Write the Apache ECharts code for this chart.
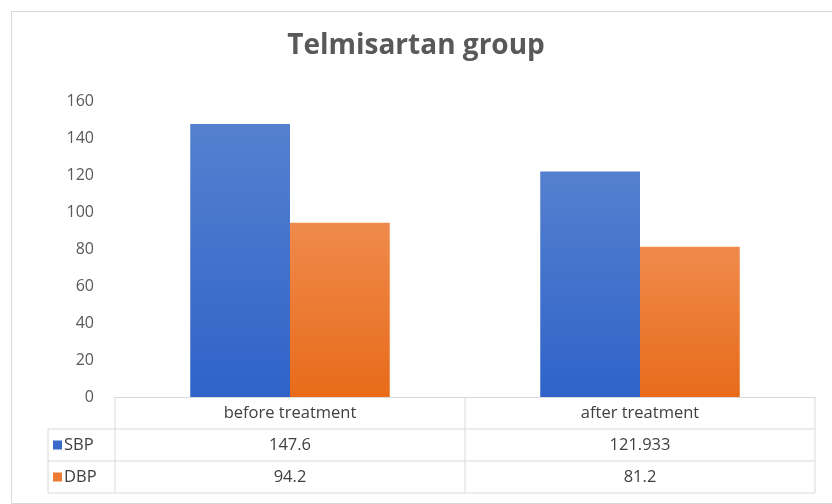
<!DOCTYPE html>
<html><head><meta charset="utf-8">
<script src="https://cdn.jsdelivr.net/npm/echarts@6/dist/echarts.min.js"></script>
<style>html,body{margin:0;padding:0;background:#fff}#c{width:832px;height:504px}</style>
</head><body><div id="c"></div>
<script>
var titleText = 'Telmisartan group';
var categories = ['before treatment', 'after treatment'];
var seriesNames = ['SBP', 'DBP'];
var sbpValues = [147.6, 121.933];
var dbpValues = [94.2, 81.2];
var sbpLabels = ['147.6', '121.933'];
var dbpLabels = ['94.2', '81.2'];
var yMin = 0, yMax = 160, yInterval = 20;

var blueGrad = new echarts.graphic.LinearGradient(0,0,0,1,[{offset:0,color:'#5580cf'},{offset:1,color:'#2f63c9'}]);
var orangeGrad = new echarts.graphic.LinearGradient(0,0,0,1,[{offset:0,color:'#ef8a4c'},{offset:1,color:'#e86b1a'}]);
var keyColors = ['#3a6bcb', '#ec7a32'];

var chart = echarts.init(document.getElementById('c'), null, {renderer:'canvas'});
var option = {
  backgroundColor: '#fff',
  animation: false,
  title: {
    text: titleText, left: 'center', top: 27,
    textStyle: {fontFamily: 'Open Sans', fontWeight: 'bold', fontSize: 28, color: '#595959'}
  },
  grid: {left: 115, right: 17, top: 101, bottom: 107},
  xAxis: {
    type: 'category', data: categories,
    axisLine: {show: true, lineStyle: {color: '#d9d9d9', width: 1}},
    axisTick: {show: false}, axisLabel: {show: false}
  },
  yAxis: {
    type: 'value', min: yMin, max: yMax, interval: yInterval,
    axisLine: {show: false}, axisTick: {show: false},
    splitLine: {show: false},
    axisLabel: {color: '#595959', fontSize: 16, fontFamily: 'Open Sans', margin: 21}
  },
  series: [
    {name: seriesNames[0], type: 'bar', data: sbpValues, barGap: '0%', barCategoryGap: '43%',
     itemStyle: {color: blueGrad}},
    {name: seriesNames[1], type: 'bar', data: dbpValues, barGap: '0%', barCategoryGap: '43%',
     itemStyle: {color: orangeGrad}}
  ],
  graphic: [{type:'rect', left: 9, top: 9, shape:{width: 821, height: 492}, style:{fill:'none', stroke:'#d9d9d9', lineWidth:1}, silent:true}]
};
chart.setOption(option);

// Build the data table under the plot from the axis positions
var c0 = chart.convertToPixel({xAxisIndex:0}, categories[0]);
var c1 = chart.convertToPixel({xAxisIndex:0}, categories[1]);
var band = c1 - c0;
var y0 = chart.convertToPixel({yAxisIndex:0}, 0);
var plotLeft = c0 - band/2;
var plotRight = c1 + band/2;
var rowH = 32;
var tableLeft = 48;
var lineColor = '#d9d9d9';
var g = option.graphic.slice();
function hline(x1,x2,y){g.push({type:'line',silent:true,shape:{x1:x1,y1:y,x2:x2,y2:y},style:{stroke:lineColor,lineWidth:1}});}
function vline(x,y1,y2){g.push({type:'line',silent:true,shape:{x1:x,y1:y1,x2:x,y2:y2},style:{stroke:lineColor,lineWidth:1}});}
function txt(x,y,s,align){g.push({type:'text',silent:true,x:x,y:y,style:{text:s,fill:'#404040',font:'16.5px "Open Sans"',textAlign:align||'center',textVerticalAlign:'middle'}});}
hline(tableLeft, plotRight, y0 + rowH);
hline(tableLeft, plotRight, y0 + 2*rowH);
hline(tableLeft, plotRight, y0 + 3*rowH);
vline(tableLeft, y0 + rowH, y0 + 3*rowH);
vline(plotLeft, y0, y0 + 3*rowH);
vline(plotLeft + band, y0, y0 + 3*rowH);
vline(plotRight, y0, y0 + 3*rowH);
var centers = [c0, c1];
for (var i = 0; i < categories.length; i++) {
  txt(centers[i], y0 + rowH/2, categories[i]);
  txt(centers[i], y0 + rowH*1.5, sbpLabels[i]);
  txt(centers[i], y0 + rowH*2.5, dbpLabels[i]);
}
var rowLabels = [seriesNames[0], seriesNames[1]];
for (var r = 0; r < 2; r++) {
  var yc = y0 + rowH*(1.5 + r);
  g.push({type:'rect',silent:true,shape:{x:tableLeft+5,y:yc-4.5,width:9,height:9},style:{fill:keyColors[r]}});
  txt(tableLeft+16, yc, rowLabels[r], 'left');
}
chart.setOption({graphic: g}, {replaceMerge: ['graphic']});
</script></body></html>
